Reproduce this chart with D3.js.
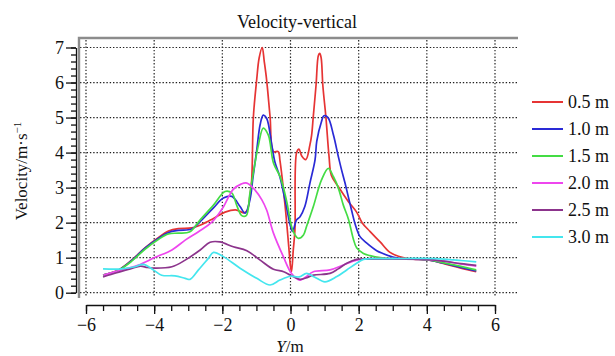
<!DOCTYPE html>
<html>
<head>
<meta charset="utf-8">
<script src="https://cdn.jsdelivr.net/npm/d3@7"></script>
<style>
body { margin: 0; background: #fff; }
</style>
</head>
<body>
<div class="container"></div>
<script>
const wd = 615, ht = 356
const serif = "'Liberation Serif', 'DejaVu Serif', 'Noto Serif', Tinos, 'Times New Roman', Times, serif"

// series: [Y position (m), velocity (m/s)]
const v05 = [[-5.5,0.5],[-5.05,0.65],[-4.66,0.93],[-4.27,1.28],[-3.88,1.57],[-3.58,1.76],[-3.29,1.83],[-2.9,1.85],[-2.6,1.95],[-2.26,2.12],[-1.92,2.3],[-1.58,2.36],[-1.38,2.28],[-1.27,2.35],[-1.2,2.7],[-1.14,3.2],[-1.09,5.0],[-0.99,6.1],[-0.92,6.7],[-0.83,7.0],[-0.77,6.6],[-0.7,6.07],[-0.6,5.03],[-0.5,4.03],[-0.36,4.03],[-0.31,3.78],[-0.15,2.4],[-0.05,1.3],[0.0,0.75],[0.03,0.6],[0.08,1.2],[0.13,1.8],[0.18,4.0],[0.25,4.1],[0.33,3.9],[0.45,3.8],[0.57,4.22],[0.62,4.5],[0.67,5.05],[0.75,5.93],[0.82,6.78],[0.86,6.83],[0.9,6.7],[0.95,5.9],[1.04,5.0],[1.13,3.9],[1.2,3.35],[1.4,3.03],[1.7,2.6],[1.94,2.3],[2.1,2.0],[2.33,1.75],[2.63,1.45],[2.92,1.15],[3.3,1.0],[3.6,0.96],[4.0,0.94],[4.5,0.83],[5.0,0.7],[5.45,0.6]]
const v10 = [[-5.5,0.5],[-5.05,0.64],[-4.66,0.92],[-4.27,1.27],[-3.88,1.55],[-3.58,1.72],[-3.29,1.78],[-2.9,1.82],[-2.65,2.03],[-2.26,2.42],[-1.97,2.7],[-1.72,2.75],[-1.48,2.46],[-1.33,2.27],[-1.19,2.65],[-1.1,3.3],[-1.0,4.0],[-0.89,4.8],[-0.8,5.07],[-0.7,4.98],[-0.55,4.22],[-0.46,3.74],[-0.31,3.3],[-0.16,2.65],[0.0,1.9],[0.06,1.75],[0.18,2.08],[0.28,2.17],[0.42,2.46],[0.57,3.13],[0.72,3.79],[0.77,4.32],[0.91,4.89],[0.98,5.05],[1.1,5.0],[1.26,4.5],[1.4,3.9],[1.5,3.5],[1.6,3.13],[1.79,2.36],[1.9,1.95],[2.04,1.6],[2.23,1.42],[2.53,1.2],[2.71,1.12],[3.0,1.02],[3.3,0.97],[4.0,0.94],[4.5,0.84],[5.0,0.72],[5.45,0.62]]
const v15 = [[-5.5,0.5],[-5.05,0.64],[-4.66,0.9],[-4.27,1.24],[-3.88,1.52],[-3.58,1.68],[-3.29,1.7],[-2.95,1.74],[-2.65,2.08],[-2.26,2.5],[-1.92,2.89],[-1.72,2.84],[-1.58,2.5],[-1.43,2.2],[-1.3,2.2],[-1.19,2.84],[-1.06,3.6],[-0.94,4.22],[-0.8,4.7],[-0.65,4.5],[-0.5,3.7],[-0.3,3.3],[-0.11,2.6],[0.03,1.89],[0.13,1.65],[0.23,1.55],[0.38,1.65],[0.47,1.89],[0.67,2.46],[0.91,3.22],[1.11,3.55],[1.26,3.31],[1.4,3.0],[1.55,2.5],[1.7,2.1],[1.84,1.55],[1.94,1.28],[2.14,1.12],[2.33,1.06],[2.63,1.0],[3.0,0.97],[4.0,0.94],[4.5,0.85],[5.0,0.75],[5.45,0.65]]
const v20 = [[-5.49,0.5],[-5.15,0.6],[-4.76,0.7],[-4.46,0.79],[-3.97,1.01],[-3.48,1.22],[-3.09,1.5],[-2.7,1.74],[-2.3,2.02],[-2.0,2.4],[-1.68,2.95],[-1.45,3.1],[-1.28,3.13],[-1.04,2.93],[-0.84,2.65],[-0.7,2.36],[-0.5,1.7],[-0.21,1.03],[0.03,0.55],[0.28,0.36],[0.45,0.45],[0.67,0.6],[1.16,0.65],[1.55,0.79],[1.94,0.93],[2.3,0.97],[3.0,0.97],[4.0,0.95],[4.5,0.9],[5.0,0.82],[5.45,0.76]]
const v25 = [[-5.5,0.45],[-5.1,0.57],[-4.7,0.68],[-4.4,0.76],[-4.2,0.72],[-3.97,0.7],[-3.48,0.74],[-3.09,0.93],[-2.65,1.22],[-2.36,1.44],[-2.07,1.45],[-1.68,1.31],[-1.28,1.2],[-0.89,0.93],[-0.5,0.67],[-0.2,0.6],[0.0,0.5],[0.28,0.38],[0.45,0.42],[0.67,0.5],[1.16,0.55],[1.4,0.68],[1.65,0.84],[1.94,0.95],[2.3,0.96],[3.0,0.96],[4.0,0.95],[4.5,0.9],[5.0,0.83],[5.45,0.78]]
const v30 = [[-5.5,0.68],[-4.95,0.68],[-4.56,0.74],[-4.32,0.81],[-4.02,0.65],[-3.78,0.5],[-3.39,0.48],[-3.09,0.41],[-2.95,0.38],[-2.7,0.65],[-2.41,0.98],[-2.26,1.15],[-1.97,1.03],[-1.48,0.7],[-0.99,0.41],[-0.6,0.22],[-0.31,0.36],[0.0,0.47],[0.25,0.45],[0.47,0.55],[0.7,0.45],[1.01,0.31],[1.36,0.46],[1.65,0.65],[1.94,0.84],[2.14,0.95],[2.63,0.97],[3.5,0.98],[4.0,0.98],[4.5,0.96],[5.0,0.92],[5.45,0.88]]

const seriesNames = ["0.5 m", "1.0 m", "1.5 m", "2.0 m", "2.5 m", "3.0 m"]
const seriesColors = ["#e63434", "#2a2ad6", "#44dc44", "#ee46ee", "#8c348c", "#44e6ee"]
const seriesData = [v05, v10, v15, v20, v25, v30]

const xTicks = [-6, -4, -2, 0, 2, 4, 6]
const yTicks = [0, 1, 2, 3, 4, 5, 6, 7]

const svgC = d3.select(".container")
.append("svg")
.attr("width", wd)
.attr("height", ht)
.style("font-family", serif)

const xScale = d3.scaleLinear().domain([-6, 6]).range([86, 495])
const yScale = d3.scaleLinear().domain([0, 7]).range([292.7, 47.5])

// dotted grid
const grid = svgC.append("g")
.attr("stroke", "#222")
.attr("stroke-width", 1.2)
.attr("stroke-dasharray", "1.4,1.9")

grid.selectAll(".hg")
.data(yTicks)
.enter()
.append("line")
.attr("x1", 80).attr("x2", 518)
.attr("y1", d => yScale(d)).attr("y2", d => yScale(d))

grid.selectAll(".vg")
.data(xTicks)
.enter()
.append("line")
.attr("x1", d => xScale(d)).attr("x2", d => xScale(d))
.attr("y1", 40).attr("y2", 297)

// grey frame
svgC.append("path")
.attr("d", "M79,298V38H518")
.attr("fill", "none")
.attr("stroke", "#8c8c8c")
.attr("stroke-width", 2.4)

// y axis
const yMinor = svgC.append("g")
.attr("transform", "translate(76,0)")
.call(d3.axisLeft(yScale).tickValues(d3.range(0, 7.01, 0.2)).tickSize(5).tickSizeOuter(0).tickFormat(""))
yMinor.select(".domain").remove()

const yAxis = svgC.append("g")
.attr("transform", "translate(76,0)")
.call(d3.axisLeft(yScale).tickValues(yTicks).tickSize(10).tickSizeOuter(0).tickPadding(2).tickFormat(d3.format("d")))

// x axis (detached below the plot)
const xMinor = svgC.append("g")
.attr("transform", "translate(0,305)")
.call(d3.axisBottom(xScale).tickValues(d3.range(-6, 6.01, 0.5)).tickSize(6).tickSizeOuter(0).tickFormat(""))
xMinor.select(".domain").remove()

const xAxis = svgC.append("g")
.attr("transform", "translate(0,305)")
.call(d3.axisBottom(xScale).tickValues(xTicks).tickSize(9).tickSizeOuter(0).tickPadding(4).tickFormat(d3.format("d")))

svgC.selectAll(".tick line, .domain").attr("stroke", "#111").attr("stroke-width", 1.3)

// curves
const line = d3.line()
.x(d => xScale(d[0]))
.y(d => yScale(d[1]))
.curve(d3.curveCatmullRom.alpha(0.5))

svgC.append("g")
.selectAll("path")
.data(seriesData)
.enter()
.append("path")
.attr("d", d => line(d))
.attr("fill", "none")
.attr("stroke", (d, i) => seriesColors[i])
.attr("stroke-width", 1.7)
.attr("stroke-linejoin", "round")

// title + axis titles
svgC.append("text")
.attr("x", 297).attr("y", 28)
.attr("text-anchor", "middle")
.style("font-size", "18px")
.text("Velocity-vertical")

const yLab = svgC.append("text")
.attr("transform", "translate(27,171) rotate(-90)")
.attr("text-anchor", "middle")
.style("font-size", "17px")
yLab.append("tspan").text("Velocity/m·s")
yLab.append("tspan").attr("dy", -6).style("font-size", "11px").text("−1")

const xLab = svgC.append("text")
.attr("x", 290).attr("y", 352)
.attr("text-anchor", "middle")
.style("font-size", "17px")
xLab.append("tspan").style("font-style", "italic").text("Y")
xLab.append("tspan").text("/m")

// legend
const legend = svgC.append("g")
.selectAll("g")
.data(seriesNames)
.enter()
.append("g")
.attr("transform", (d, i) => "translate(0," + (102 + i * 27) + ")")

legend.append("line")
.attr("x1", 532).attr("x2", 563)
.attr("stroke", (d, i) => seriesColors[i])
.attr("stroke-width", 2)

legend.append("text")
.attr("x", 568).attr("y", 6)
.style("font-size", "18px")
.text(d => d)

// every label in the serif face, tick labels at 18px
svgC.selectAll("text").style("font-family", serif).attr("fill", "#111")
svgC.selectAll(".tick text").style("font-size", "18px")
</script>
</body>
</html>
